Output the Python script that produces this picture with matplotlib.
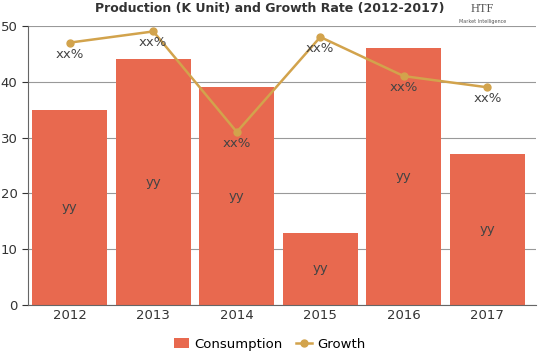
import matplotlib
matplotlib.use('Agg')
import matplotlib.pyplot as plt
import numpy as np

years = ['2012', '2013', '2014', '2015', '2016', '2017']
consumption = [35, 44, 39, 13, 46, 27]
growth = [47, 49, 31, 48, 41, 39]
bar_labels = ['yy'] * 6
growth_labels = ['xx%'] * 6

bar_color = '#E8694F'
line_color = '#D2A34C'

fig = plt.figure(figsize=(5.39, 3.59), dpi=100)
ax = fig.add_axes([0.052, 0.150, 0.942, 0.778])

x = np.arange(len(years))
bars = ax.bar(x, consumption, width=0.9, color=bar_color, zorder=2, label='Consumption')
line, = ax.plot(x, growth, color=line_color, linewidth=1.8, marker='o', markersize=5, zorder=3, label='Growth')

# labels
for xi, v, t in zip(x, consumption, bar_labels):
    ax.text(xi, v / 2, t, ha='center', va='center', fontsize=9.5, color='#444444', zorder=4)
for xi, v, t in zip(x, growth, growth_labels):
    ax.text(xi, v - 0.9, t, ha='center', va='top', fontsize=9.5, color='#444444', zorder=4)

ax.set_xlim(-0.5, 5.58)
ax.set_ylim(0, 50)
ax.set_yticks([0, 10, 20, 30, 40, 50])
ax.set_xticks(x)
ax.set_xticklabels(years)
ax.tick_params(axis='both', labelsize=9.5, colors='#333333', length=4)
ax.tick_params(axis='x', length=0, pad=3)
ax.grid(axis='y', color='#999999', linewidth=0.8, zorder=0)
for s in ['top', 'right']:
    ax.spines[s].set_visible(False)
ax.spines['left'].set_color('#666666')
ax.spines['bottom'].set_color('#666666')

fig.text(0.5, 0.975, 'Production (K Unit) and Growth Rate (2012-2017)', ha='center', va='center',
         fontsize=9, fontweight='bold', color='#333333')

# logo
fig.text(0.895, 0.975, 'HTF', ha='center', va='center', fontsize=9, color='#555555', family='Liberation Serif')
fig.text(0.895, 0.94, 'Market Intelligence', ha='center', va='center', fontsize=3.5, color='#555555')

fig.legend([bars, line], ['Consumption', 'Growth'], loc='lower center', bbox_to_anchor=(0.5, -0.01),
           ncol=2, frameon=False, fontsize=9.5, handlelength=1.2, columnspacing=1.0, handletextpad=0.4)

fig.savefig('out.png', dpi=100)
